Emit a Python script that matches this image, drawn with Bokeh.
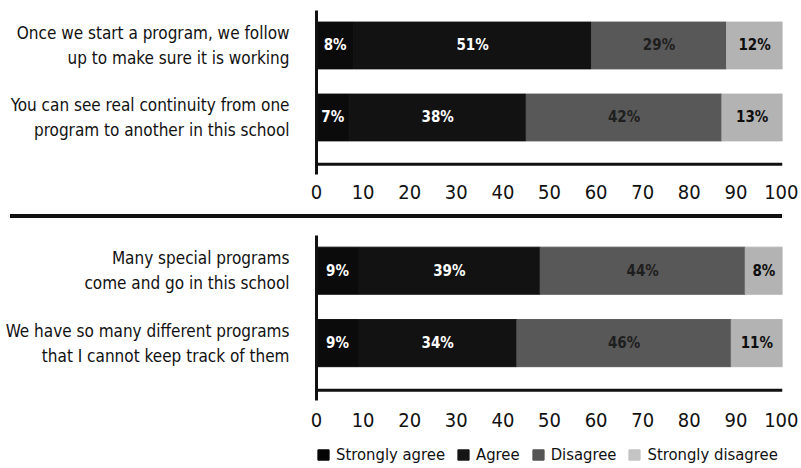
import numpy as np
from bokeh.plotting import figure
from bokeh.models import Range1d, FixedTicker, Span, ColumnDataSource, Legend, LegendItem, Div
from bokeh.layouts import column
from bokeh.embed import file_html
from bokeh.resources import INLINE
from bokeh.core.properties import value

# ---------------- data ----------------
categories = ["Strongly agree", "Agree", "Disagree", "Strongly disagree"]

top_questions = [
    "Once we start a program, we follow\nup to make sure it is working",
    "You can see real continuity from one\nprogram to another in this school",
]
top_strongly_agree = [8, 7]
top_agree = [51, 38]
top_disagree = [29, 42]
top_strongly_disagree = [12, 13]

bottom_questions = [
    "Many special programs\ncome and go in this school",
    "We have so many different programs\nthat I cannot keep track of them",
]
bottom_strongly_agree = [9, 9]
bottom_agree = [39, 34]
bottom_disagree = [44, 46]
bottom_strongly_disagree = [8, 11]

x_ticks = [0, 10, 20, 30, 40, 50, 60, 70, 80, 90, 100]

# ---------------- style ----------------
colors = ["#0b0b0b", "#121212", "#585858", "#b3b3b3"]
legend_colors = ["#050505", "#161616", "#555555", "#c4c4c4"]
label_colors = ["#ffffff", "#ffffff", "#1e1e1e", "#0e0e0e"]
FONT = "DejaVu Sans Condensed, Liberation Sans Narrow, sans-serif"
INK = "#111111"
W = 798
ROWS = [1, 2]


def make_source(series):
    data = {"row": ROWS}
    for c, s in zip(categories, series):
        data[c] = s
    return ColumnDataSource(data)


def make_panel(questions, series, height, border_top, border_bottom, standoff):
    p = figure(
        width=W, height=height,
        x_range=Range1d(0, 100), y_range=Range1d(2.792, 0.514),
        output_backend="svg", toolbar_location=None,
        min_border_left=316, min_border_right=16,
        min_border_top=border_top, min_border_bottom=border_bottom,
    )
    p.outline_line_color = None
    p.xgrid.visible = False
    p.ygrid.visible = False

    src = make_source(series)
    p.hbar_stack(categories, y="row", height=0.65, source=src,
                 fill_color=colors, line_color=colors)

    vals = np.array(series, dtype=float)
    right = np.cumsum(vals, axis=0)
    left = right - vals
    mid = (left + right) / 2
    xs, ys, texts, tcols = [], [], [], []
    for i in range(len(categories)):
        for j, r in enumerate(ROWS):
            xs.append(mid[i, j])
            ys.append(r)
            texts.append(f"{int(vals[i, j])}%")
            tcols.append(label_colors[i])
    lsrc = ColumnDataSource(dict(x=xs, y=ys, text=texts, color=tcols))
    p.text(x="x", y="y", text="text", text_color="color", source=lsrc,
           text_align="center", text_baseline="middle",
           text_font=value(FONT), text_font_size="15px", text_font_style="bold")

    p.add_layout(Span(location=2.65, dimension="width", line_color=INK, line_width=3))

    xa = p.xaxis[0]
    xa.ticker = FixedTicker(ticks=x_ticks)
    xa.axis_line_color = None
    xa.major_tick_line_color = None
    xa.minor_tick_line_color = None
    xa.major_label_standoff = standoff
    xa.major_label_text_font = FONT
    xa.major_label_text_font_size = "20px"
    xa.major_label_text_color = INK

    ya = p.yaxis[0]
    ya.ticker = FixedTicker(ticks=ROWS)
    ya.major_label_overrides = {r: q for r, q in zip(ROWS, questions)}
    ya.axis_line_color = INK
    ya.axis_line_width = 3
    ya.major_tick_line_color = None
    ya.minor_tick_line_color = None
    ya.major_label_standoff = 21
    ya.major_label_text_font = FONT
    ya.major_label_text_font_size = "17px"
    ya.major_label_text_color = INK
    ya.major_label_text_line_height = 1.25
    return p


bottom_series = [bottom_strongly_agree, bottom_agree, bottom_disagree, bottom_strongly_disagree]

p_top = make_panel(top_questions,
                   [top_strongly_agree, top_agree, top_disagree, top_strongly_disagree],
                   height=214, border_top=10, border_bottom=40, standoff=4)

sep = Div(text="", width=772, height=4, margin=(0, 0, 0, 10),
          styles={"background-color": INK})

p_bottom = make_panel(bottom_questions, bottom_series,
                      height=218, border_top=17, border_bottom=36, standoff=6)

# legend strip (legend swatches come from the same bottom-panel series;
# its y-range lies away from the rows so only the legend shows)
p_leg = figure(width=W, height=30, output_backend="svg", toolbar_location=None,
               x_range=Range1d(0, 100), y_range=Range1d(10, 11),
               x_axis_type=None, y_axis_type=None,
               min_border_left=304, min_border_right=0,
               min_border_top=8, min_border_bottom=0)
p_leg.outline_line_color = None
p_leg.grid.visible = False
leg_renderers = p_leg.hbar_stack(categories, y="row", height=0.65,
                                 source=make_source(bottom_series),
                                 fill_color=legend_colors, line_color=legend_colors)
items = [LegendItem(label=c, renderers=[r]) for c, r in zip(categories, leg_renderers)]
leg = Legend(items=items, orientation="horizontal", location="top_left")
leg.border_line_color = None
leg.background_fill_alpha = 0
leg.label_text_font = FONT
leg.label_text_font_size = "16.5px"
leg.label_text_color = INK
leg.glyph_width = 14
leg.glyph_height = 13
leg.label_height = 20
leg.label_standoff = 6
leg.spacing = 11
leg.padding = 0
leg.margin = 0
p_leg.add_layout(leg, "center")

layout = column(p_top, sep, p_bottom, p_leg, spacing=0)
open("out.html", "w").write(file_html(layout, INLINE))
